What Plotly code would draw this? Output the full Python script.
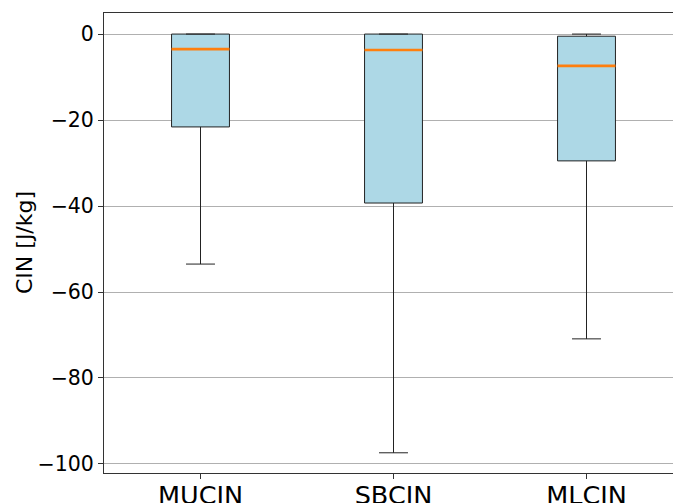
import plotly.graph_objects as go

categories = ["MUCIN", "SBCIN", "MLCIN"]
positions = [1, 2, 3]
upper_whisker = [0.0, 0.0, 0.0]
q3_values = [0.0, 0.0, -0.5]
median_values = [-3.5, -3.7, -7.4]
q1_values = [-21.6, -39.3, -29.5]
lower_whisker = [-53.5, -97.4, -70.9]
y_ticks = [0, -20, -40, -60, -80, -100]
y_title = "CIN [J/kg]"

box_width = 0.3

fig = go.Figure()
for i, name in enumerate(categories):
    fig.add_trace(go.Box(
        x=[positions[i]],
        q1=[q1_values[i]], median=[median_values[i]], q3=[q3_values[i]],
        lowerfence=[lower_whisker[i]], upperfence=[upper_whisker[i]],
        width=box_width, whiskerwidth=0.5,
        fillcolor="#add8e6",
        line=dict(color="#222222", width=1),
        boxpoints=False, showlegend=False, name=name, hoverinfo="skip",
    ))

mx, my = [], []
for p, m in zip(positions, median_values):
    mx += [p - box_width / 2, p + box_width / 2, None]
    my += [m, m, None]
fig.add_trace(go.Scatter(x=mx, y=my, mode="lines",
                         line=dict(color="#ff7f0e", width=2.6),
                         showlegend=False, hoverinfo="skip"))

fig.update_layout(
    width=684, height=503,
    margin=dict(l=104, r=1, t=13, b=30),
    plot_bgcolor="white", paper_bgcolor="white",
    font=dict(family="DejaVu Sans", color="black"),
)
fig.add_annotation(
    text=y_title, textangle=-90, xref="paper", yref="paper",
    x=0, y=0.5, xanchor="center", yanchor="middle", xshift=-80,
    showarrow=False, font=dict(size=22),
)
fig.update_xaxes(
    range=[0.5, 3.5], tickmode="array", tickvals=positions, ticktext=categories,
    showgrid=False, zeroline=False, showline=True, linecolor="#333333", linewidth=1,
    mirror=True, ticks="outside", ticklen=5, tickcolor="#333333",
    tickfont=dict(size=25.5), automargin=False, ticklabelstandoff=-6,
)
fig.update_yaxes(
    range=[-102.1, 4.9], tickmode="array", tickvals=y_ticks,
    showgrid=True, gridcolor="#b0b0b0", gridwidth=0.8, zeroline=False,
    showline=True, linecolor="#333333", linewidth=1,
    ticks="outside", ticklen=5, tickcolor="#333333",
    tickfont=dict(size=20.5), automargin=False,
)

fig.write_html(
    "out.html",
    config={"displayModeBar": False},
    post_script="document.body.style.margin='0';document.body.style.overflow='hidden';"
                "document.documentElement.style.overflow='hidden';",
)
